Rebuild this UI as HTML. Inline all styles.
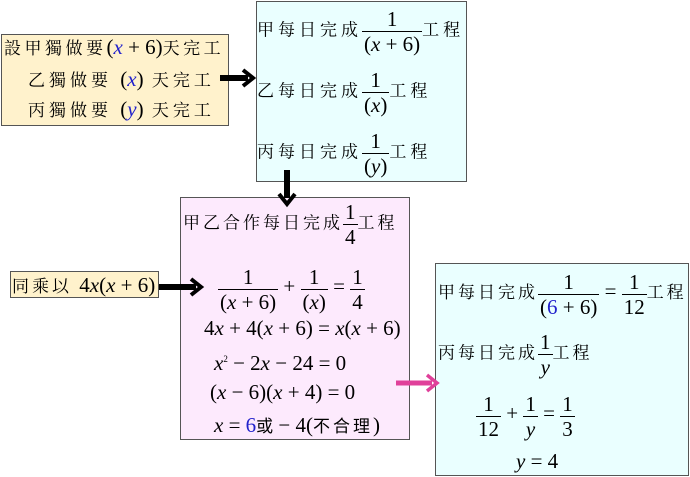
<!DOCTYPE html>
<html><head><meta charset="utf-8"><style>
body{margin:0;width:690px;height:477px;background:#fff;position:relative;overflow:hidden;font-family:"Liberation Serif","Noto Serif CJK TC","Noto Serif CJK SC",serif;}
.box{position:absolute;border:1.5px solid #555;box-sizing:border-box;}
.t{position:absolute;white-space:nowrap;font-size:17px;color:#000;line-height:22px;letter-spacing:4px;}
.m{font-family:"Liberation Serif",serif;font-size:21px;letter-spacing:0;}
i{font-style:italic}
.b{color:#2222cc}
.f{display:inline-block;vertical-align:middle;text-align:center;font-family:"Liberation Serif",serif;font-size:21px;letter-spacing:0;line-height:24px;}
.f>span{display:block;padding:0 2px}
.f>span+span{border-top:1.3px solid #000}
</style></head><body>
<div class="box" style="left:1px;top:34px;width:228px;height:92px;background:#fff2cc"></div>
<div class="box" style="left:256px;top:1px;width:211px;height:181px;background:#eaffff"></div>
<div class="box" style="left:180px;top:197px;width:230px;height:243px;background:#fdeafd"></div>
<div class="box" style="left:10px;top:271px;width:149px;height:27px;background:#fff2cc"></div>
<div class="box" style="left:435px;top:263px;width:254px;height:213px;background:#eaffff"></div>

<svg width="690" height="477" style="position:absolute;left:0;top:0">
<path d="M220 78 H248" stroke="#000" stroke-width="6"/>
<path d="M243 70 L253 78 L243 86" stroke="#000" stroke-width="4" fill="none"/>
<path d="M287 170 V198" stroke="#000" stroke-width="6"/>
<path d="M279 194 L287 204 L295 194" stroke="#000" stroke-width="4" fill="none"/>
<path d="M159 287 H196" stroke="#000" stroke-width="6"/>
<path d="M191 279 L201 287 L191 295" stroke="#000" stroke-width="4" fill="none"/>
<path d="M396 383 H432" stroke="#e0409a" stroke-width="5"/>
<path d="M427 375 L437 383 L427 391" stroke="#e0409a" stroke-width="3.5" fill="none"/>
</svg>

<div class="t" style="left:4px;top:36px;letter-spacing:3.5px">設甲獨做要<span class="m">(<i class="b">x</i> + 6)</span>天完工</div>
<div class="t" style="left:28px;top:68px">乙獨做要 <span class="m">(<i class="b">x</i>)</span> 天完工</div>
<div class="t" style="left:28px;top:98px">丙獨做要 <span class="m">(<i class="b">y</i>)</span> 天完工</div>

<div class="t" style="left:257px;top:7px;line-height:46px">甲每日完成<span class="f"><span>1</span><span>(<i>x</i> + 6)</span></span>工程</div>
<div class="t" style="left:257px;top:68px;line-height:46px">乙每日完成<span class="f"><span>1</span><span>(<i>x</i>)</span></span>工程</div>
<div class="t" style="left:257px;top:129px;line-height:46px">丙每日完成<span class="f"><span>1</span><span>(<i>y</i>)</span></span>工程</div>

<div class="t" style="left:183px;top:200px;line-height:46px;letter-spacing:3px">甲乙合作每日完成<span class="f"><span>1</span><span>4</span></span>工程</div>
<div class="t" style="left:218px;top:263px;line-height:46px"><span class="f"><span>1</span><span>(<i>x</i> + 6)</span></span><span class="m"> + </span><span class="f"><span>1</span><span>(<i>x</i>)</span></span><span class="m"> = </span><span class="f"><span>1</span><span>4</span></span></div>
<div class="t m" style="left:204px;top:317px">4<i>x</i> + 4(<i>x</i> + 6) = <i>x</i>(<i>x</i> + 6)</div>
<div class="t m" style="left:214px;top:348px"><i>x</i><sup style="font-size:9px">2</sup> − 2<i>x</i> − 24 = 0</div>
<div class="t m" style="left:210px;top:381px">(<i>x</i> − 6)(<i>x</i> + 4) = 0</div>
<div class="t m" style="left:214px;top:414px"><i>x</i> = <span class="b">6</span><span style="font-size:17px">或</span> − 4(<span style="font-size:17px;letter-spacing:3px">不合理</span>)</div>

<div class="t" style="left:12px;top:274px;letter-spacing:3px">同乘以 <span class="m">4<i>x</i>(<i>x</i> + 6)</span></div>

<div class="t" style="left:438px;top:268px;line-height:46px;letter-spacing:3px">甲每日完成<span class="f"><span>1</span><span>(<span class="b">6</span> + 6)</span></span><span class="m"> = </span><span class="f"><span>1</span><span>12</span></span>工程</div>
<div class="t" style="left:438px;top:330px;line-height:46px;letter-spacing:3px">丙每日完成<span class="f"><span>1</span><span><i>y</i></span></span>工程</div>
<div class="t" style="left:476px;top:390px;line-height:46px"><span class="f"><span>1</span><span>12</span></span><span class="m"> + </span><span class="f"><span>1</span><span><i>y</i></span></span><span class="m"> = </span><span class="f"><span>1</span><span>3</span></span></div>
<div class="t m" style="left:516px;top:450px"><i>y</i> = 4</div>
</body></html>
